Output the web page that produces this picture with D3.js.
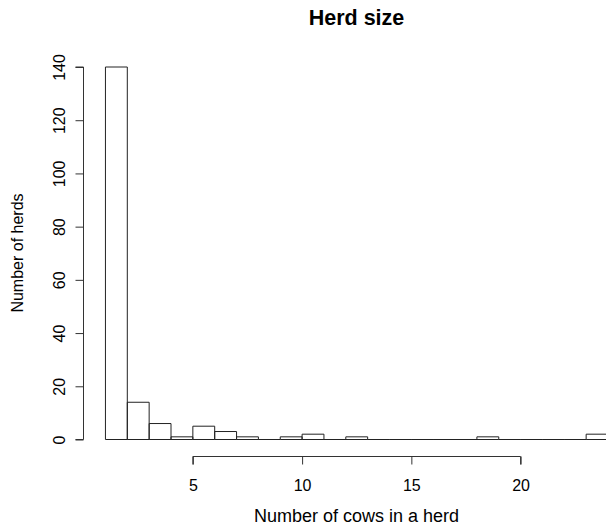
<!DOCTYPE html>
<html>
<head>
<meta charset="utf-8">
<script src="https://cdn.jsdelivr.net/npm/d3@7"></script>
<style>
  html, body { margin: 0; padding: 0; background: #fff; }
  svg { display: block; }
  text { font-family: "Liberation Sans", Arial, sans-serif; fill: #000; }
</style>
</head>
<body>
<script>
// Histogram bins: each bin spans [start, start + 1)
const binStarts = [1, 2, 3, 4, 5, 6, 7, 8, 9, 10, 11, 12, 13, 14, 15, 16, 17, 18, 19, 20, 21, 22, 23];
const herdCounts = [140, 14, 6, 1, 5, 3, 1, 0, 1, 2, 0, 1, 0, 0, 0, 0, 0, 1, 0, 0, 0, 0, 2];
const xTicks = [5, 10, 15, 20];
const yTicks = [0, 20, 40, 60, 80, 100, 120, 140];

const titleText = "Herd size";
const xLabel = "Number of cows in a herd";
const yLabel = "Number of herds";

const W = 606, H = 527;

const svg = d3.select("body").append("svg")
  .attr("width", W).attr("height", H);

const x = d3.scaleLinear().domain([1, 24]).range([105.45, 608]);
const y = d3.scaleLinear().domain([0, 140]).range([439.5, 67]);

// Bars drawn as closed outlines so empty bins still show along the baseline
svg.append("g").selectAll("path")
  .data(binStarts.map((s, i) => ({ s, n: herdCounts[i] })))
  .join("path")
  .attr("d", d => {
    const x0 = x(d.s), x1 = x(d.s + 1), y0 = y(0), y1 = y(d.n);
    return `M${x0},${y0}V${y1}H${x1}V${y0}Z`;
  })
  .attr("fill", "none")
  .attr("stroke", "#222")
  .attr("stroke-width", 1);

// X axis (line spans first to last tick)
const xAxis = svg.append("g")
  .attr("transform", "translate(0,456.5)")
  .call(d3.axisBottom(x).tickValues(xTicks).tickSize(8).tickSizeOuter(0).tickFormat(d3.format("d")));
xAxis.select(".domain").attr("d", `M${x(xTicks[0])},8V0H${x(xTicks[xTicks.length - 1])}V8`);
xAxis.selectAll("line, path").attr("stroke", "#333");
xAxis.selectAll("text").attr("font-size", 16).attr("dy", null).attr("y", 34)
  .style("font-family", "Liberation Sans, Arial, sans-serif");

// Y axis
const yAxis = svg.append("g")
  .attr("transform", "translate(83.5,0)")
  .call(d3.axisLeft(y).tickValues(yTicks).tickSize(8).tickSizeOuter(0).tickFormat(d3.format("d")));
yAxis.select(".domain").attr("d", `M-8,${y(0)}H0V${y(140)}H-8`);
yAxis.selectAll("line, path").attr("stroke", "#333");
yAxis.selectAll(".tick text")
  .attr("x", null).attr("dy", null)
  .attr("text-anchor", "middle")
  .attr("font-size", 16)
  .attr("transform", "translate(-19,0) rotate(-90)")
  .style("font-family", "Liberation Sans, Arial, sans-serif");

// Title and axis labels
svg.append("text")
  .attr("x", 356.5).attr("y", 25)
  .attr("text-anchor", "middle")
  .attr("font-size", 21.5).attr("font-weight", "bold")
  .text(titleText);

svg.append("text")
  .attr("x", 356.5).attr("y", 522)
  .attr("text-anchor", "middle")
  .attr("font-size", 18)
  .text(xLabel);

svg.append("text")
  .attr("transform", "translate(23,253) rotate(-90)")
  .attr("text-anchor", "middle")
  .attr("font-size", 16)
  .text(yLabel);
</script>
</body>
</html>
